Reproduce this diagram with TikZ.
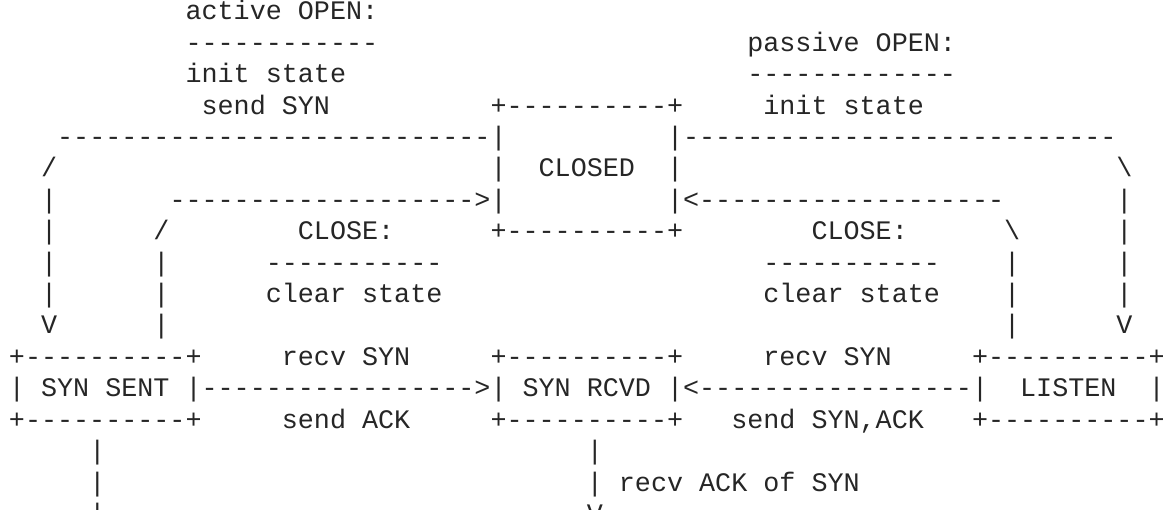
\documentclass[tikz,border=0pt]{standalone}
\usepackage{fontspec}
\setmonofont{Liberation Mono}

% a run of n hyphens, for the rules and arrow shafts of the chart
\ExplSyntaxOn
\cs_new:Npn \dashrun #1 { \prg_replicate:nn {#1} {-} }
\ExplSyntaxOff

% character grid: cell width and line pitch, in pt
\newcommand\cellw{16.05}
\newcommand\pitch{31.4}
\newcommand\gridsize{\fontsize{26.75pt}{31.4pt}\selectfont}

\tikzset{
  txt/.style={anchor=base west, inner sep=0pt, outer sep=0pt,
              font=\gridsize\ttfamily, text=black!85}
}

% \cell{name}{row}{column}{text}
\newcommand\cell[4]{%
  \node[txt] (#1) at ({(9+\cellw*#3)*1pt},{-(20+\pitch*#2)*1pt}) {#4};}

\begin{document}
\begin{tikzpicture}
\fill[white] (0,0) rectangle (1167pt,-510pt);
\useasboundingbox (0,0) rectangle (1167pt,-510pt);

% active open label
\cell{actOpen}{0}{11}{active OPEN:}
\cell{actRule}{1}{11}{\dashrun{12}}
\cell{actInit}{2}{11}{init state}
\cell{actSend}{3}{12}{send SYN}

% passive open label
\cell{pasOpen}{1}{46}{passive OPEN:}
\cell{pasRule}{2}{46}{\dashrun{13}}
\cell{pasInit}{3}{47}{init state}

% CLOSED state
\cell{closedTop}{3}{30}{+\dashrun{10}+}
\cell{closedL}{4}{3}{\dashrun{27}|}
\cell{closedR}{4}{41}{|\dashrun{27}}
\cell{closedMid}{5}{30}{|~~CLOSED~~|}
\cell{closeInL}{6}{10}{\dashrun{19}>|}
\cell{closeInR}{6}{41}{|<\dashrun{19}}
\cell{closedBot}{7}{30}{+\dashrun{10}+}

% outer branches from CLOSED down to SYN SENT and LISTEN
\cell{outL5}{5}{2}{/}
\cell{outR5}{5}{69}{\textbackslash}
\cell{outL6}{6}{2}{|}
\cell{outR6}{6}{69}{|}
\cell{outL7}{7}{2}{|}
\cell{outR7}{7}{69}{|}
\cell{outL8}{8}{2}{|}
\cell{outR8}{8}{69}{|}
\cell{outL9}{9}{2}{|}
\cell{outR9}{9}{69}{|}
\cell{outL10}{10}{2}{V}
\cell{outR10}{10}{69}{V}

% inner branches back up to CLOSED
\cell{inL7}{7}{9}{/}
\cell{inR7}{7}{62}{\textbackslash}
\cell{inL8}{8}{9}{|}
\cell{inR8}{8}{62}{|}
\cell{inL9}{9}{9}{|}
\cell{inR9}{9}{62}{|}
\cell{inL10}{10}{9}{|}
\cell{inR10}{10}{62}{|}

% CLOSE labels
\cell{closeLblL}{7}{18}{CLOSE:}
\cell{closeRuleL}{8}{16}{\dashrun{11}}
\cell{closeActL}{9}{16}{clear state}
\cell{closeLblR}{7}{50}{CLOSE:}
\cell{closeRuleR}{8}{47}{\dashrun{11}}
\cell{closeActR}{9}{47}{clear state}

% SYN SENT, SYN RCVD and LISTEN states
\cell{sentTop}{11}{0}{+\dashrun{10}+}
\cell{sentMid}{12}{0}{|~SYN~SENT~|}
\cell{sentBot}{13}{0}{+\dashrun{10}+}
\cell{rcvdTop}{11}{30}{+\dashrun{10}+}
\cell{rcvdMid}{12}{30}{|~SYN~RCVD~|}
\cell{rcvdBot}{13}{30}{+\dashrun{10}+}
\cell{listenTop}{11}{60}{+\dashrun{10}+}
\cell{listenMid}{12}{60}{|~~LISTEN~~|}
\cell{listenBot}{13}{60}{+\dashrun{10}+}

% transitions into SYN RCVD
\cell{sentToRcvd}{12}{12}{\dashrun{17}>}
\cell{listenToRcvd}{12}{42}{<\dashrun{17}}
\cell{recvL}{11}{17}{recv SYN}
\cell{sendL}{13}{17}{send ACK}
\cell{recvR}{11}{47}{recv SYN}
\cell{sendR}{13}{45}{send SYN,ACK}

% lines leaving the bottom edge
\cell{sentDown14}{14}{5}{|}
\cell{sentDown15}{15}{5}{|}
\cell{sentDown16}{16}{5}{|}
\cell{rcvdDown14}{14}{36}{|}
\cell{rcvdDown15}{15}{36}{|}
\cell{rcvdDown16}{16}{36}{V}
\cell{ackLbl}{15}{38}{recv ACK of SYN}
\end{tikzpicture}
\end{document}
